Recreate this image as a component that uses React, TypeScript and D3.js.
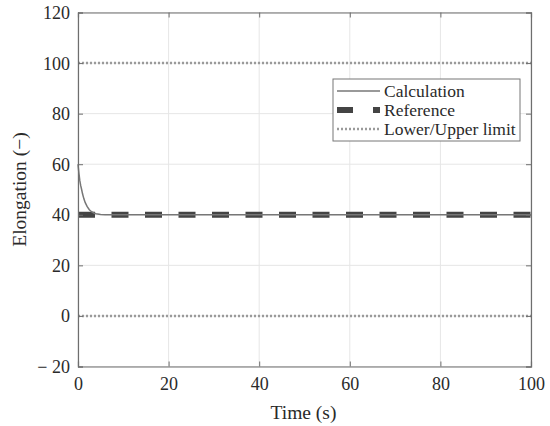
import React, { useEffect, useRef } from 'react'
import * as d3 from 'd3'

// values
const calcTime = [0, 0.2, 0.4, 0.6, 0.8, 1, 1.3, 1.6, 2, 2.5, 3, 3.5, 4, 5, 6, 100]
const calcValue = [60, 56.5, 53.5, 51.5, 50, 48.3, 46.3, 44.8, 43.3, 42, 41.2, 40.7, 40.4, 40.15, 40.05, 40]
const refTime = [0, 100]
const refValue = [40, 40]
const limits = [0, 100]
const xTicks = [0, 20, 40, 60, 80, 100]
const yTicks = [-20, 0, 20, 40, 60, 80, 100, 120]

const margin = { top: 12.5, right: 19, bottom: 59.5, left: 78 },
    width = 550 - margin.left - margin.right,
    height = 426 - margin.top - margin.bottom

const font = '"Liberation Serif", "Times New Roman", serif'
const textColor = '#2a2a2a'

const App = () => {
    const ref = useRef<SVGSVGElement>(null)

    useEffect(() => {
        const root = d3.select(ref.current)
        root.selectAll('*').remove()

        const svg = root.append('g')
            .attr('transform', `translate(${margin.left},${margin.top})`)

        const x = d3.scaleLinear().domain([0, 100]).range([0, width])
        const y = d3.scaleLinear().domain([-20, 120]).range([height, 0])

        // grid
        svg.append('g').selectAll('line').data(xTicks).join('line')
            .attr('x1', d => x(d)).attr('x2', d => x(d))
            .attr('y1', 0).attr('y2', height)
            .attr('stroke', '#e6e6e6').attr('stroke-width', 1)
        svg.append('g').selectAll('line').data(yTicks).join('line')
            .attr('x1', 0).attr('x2', width)
            .attr('y1', d => y(d)).attr('y2', d => y(d))
            .attr('stroke', '#e6e6e6').attr('stroke-width', 1)

        const line = d3.line<[number, number]>().x(d => x(d[0])).y(d => y(d[1]))

        // limits
        limits.forEach(v => {
            svg.append('path')
                .attr('d', line([[0, v], [100, v]]))
                .attr('stroke', '#9a9a9a').attr('stroke-width', 2.5)
                .attr('stroke-dasharray', '2,2').attr('fill', 'none')
        })

        // reference
        svg.append('path')
            .attr('d', line(refTime.map((t, i) => [t, refValue[i]])))
            .attr('stroke', '#444').attr('stroke-width', 6)
            .attr('stroke-dasharray', '17,16.5').attr('fill', 'none')

        // calculation
        svg.append('path')
            .attr('d', line(calcTime.map((t, i) => [t, calcValue[i]])))
            .attr('stroke', '#777').attr('stroke-width', 1.5).attr('fill', 'none')

        // axes box with inward ticks
        const axisColor = '#6e6e6e'
        const xb = svg.append('g').attr('transform', `translate(0,${height})`)
            .call(d3.axisBottom(x).tickValues(xTicks).tickSize(-5).tickPadding(10).tickFormat(d3.format('d')))
        const xt = svg.append('g')
            .call(d3.axisTop(x).tickValues(xTicks).tickSize(-5).tickFormat(() => ''))
        const yl = svg.append('g')
            .call(d3.axisLeft(y).tickValues(yTicks).tickSize(-5).tickPadding(8)
                .tickFormat(d => (+d < 0 ? '\u2212 ' + Math.abs(+d) : String(d))))
        const yr = svg.append('g').attr('transform', `translate(${width},0)`)
            .call(d3.axisRight(y).tickValues(yTicks).tickSize(-5).tickFormat(() => ''))
        ;[xb, xt, yl, yr].forEach(g => {
            g.select('.domain').attr('stroke', axisColor).attr('stroke-width', 1.2)
            g.selectAll('.tick line').attr('stroke', axisColor)
            g.selectAll('.tick text').attr('fill', textColor)
                .style('font-family', font).style('font-size', '18px')
        })
        xb.selectAll('.tick text').attr('dy', '0.75em')
        yl.selectAll('.tick text').attr('dy', '0.33em')

        // axis labels
        svg.append('text')
            .attr('x', width / 2 - 1).attr('y', height + 52)
            .attr('text-anchor', 'middle')
            .style('font-family', font).style('font-size', '19.5px').attr('fill', textColor)
            .text('Time (s)')
        svg.append('text')
            .attr('transform', `translate(${-52},${height / 2}) rotate(-90)`)
            .attr('text-anchor', 'middle')
            .style('font-family', font).style('font-size', '19.5px').attr('fill', textColor)
            .text('Elongation (\u2212)')

        // legend
        const lg = svg.append('g').attr('transform', `translate(${333 - margin.left},${79 - margin.top})`)
        lg.append('rect')
            .attr('width', 187).attr('height', 62)
            .attr('fill', 'white').attr('stroke', '#777').attr('stroke-width', 1)
        const items = [
            { name: 'Calculation', stroke: '#777', w: 1.5, dash: null },
            { name: 'Reference', stroke: '#444', w: 6, dash: '16,20' },
            { name: 'Lower/Upper limit', stroke: '#9a9a9a', w: 2.5, dash: '2,2' },
        ]
        items.forEach((it, i) => {
            const cy = 12 + i * 19
            lg.append('line')
                .attr('x1', 4).attr('x2', 47).attr('y1', cy).attr('y2', cy)
                .attr('stroke', it.stroke).attr('stroke-width', it.w)
                .attr('stroke-dasharray', it.dash)
            lg.append('text')
                .attr('x', 51).attr('y', cy).attr('dy', '0.35em')
                .style('font-family', font).style('font-size', '17.5px').attr('fill', textColor)
                .text(it.name)
        })
    }, [])

    return (
        <svg ref={ref} width={550} height={426}
            style={{ position: 'absolute', left: 0, top: 0, background: 'white' }} />
    )
}

export default App
